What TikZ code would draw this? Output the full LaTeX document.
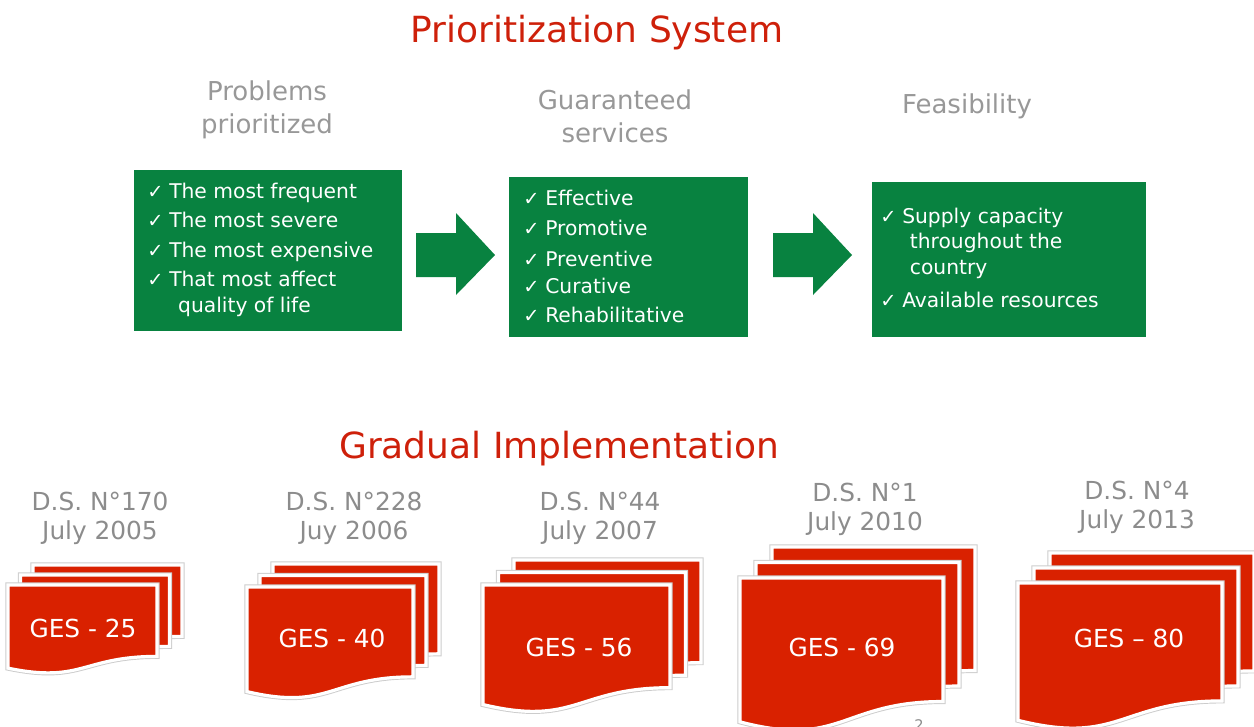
\documentclass[tikz,border=0pt]{standalone}
\usepackage{fontspec}
\setmainfont{DejaVu Sans}
\definecolor{gesred}{RGB}{217,33,0}
\definecolor{titlered}{RGB}{206,32,10}
\definecolor{boxgreen}{RGB}{8,130,64}
\definecolor{headgray}{RGB}{152,152,152}
\definecolor{labelgray}{RGB}{140,140,140}

% check mark in front of each list entry
\newcommand\chk{\makebox[16.5pt][l]{\fontsize{14.5}{14}\selectfont ✓}}

% one sheet of a stack: top-left (x,y), width w, height h, wavy lower edge
\newcommand\sheetpath[4]{(#1,#2) -- ({#1+#3},#2) -- ({#1+#3},{#2+0.802*#4})
  .. controls ({#1+0.5*#3},{#2+0.802*#4}) and ({#1+0.5*#3},{#2+1.1075*#4}) .. (#1,{#2+0.934*#4}) -- cycle}
\newcommand\sheet[4]{%
  \path[sheetshadow] \sheetpath{#1}{#2}{#3}{#4};
  \path[sheetface] \sheetpath{#1}{#2}{#3}{#4};}
% a stack of three sheets: front (x,y,w,h), step between sheets (dx,dy)
\newcommand\sheetstack[6]{%
  \sheet{#1+2*#5}{#2+2*#6}{#3}{#4}
  \sheet{#1+#5}{#2+#6}{#3}{#4}
  \sheet{#1}{#2}{#3}{#4}}

\begin{document}
\begin{tikzpicture}[x=0.75pt,y=-0.75pt,
  title/.style={text=titlered,font=\fontsize{27}{32}\selectfont},
  head/.style={text=headgray,font=\fontsize{19.5}{24.75}\selectfont,align=center},
  greenbox/.style={fill=boxgreen,draw=none},
  item/.style={text=white,font=\fontsize{15.2}{18}\selectfont,anchor=base west,inner sep=0pt},
  blockarrow/.style={fill=boxgreen,draw=none},
  dslabel/.style={text=labelgray,font=\fontsize{18.6}{21.75}\selectfont,align=center},
  geslabel/.style={text=white,font=\fontsize{18.6}{22}\selectfont},
  sheetshadow/.style={draw=black!20,line width=3.8pt,line join=miter},
  sheetface/.style={fill=gesred,draw=white,line width=2.4pt,line join=miter},
]
\useasboundingbox (0,0) rectangle (1254,726);

% ---------- Prioritization system ----------
\node[title] (ptitle) at (597,33) {Prioritization System};

\node[head] (h1) at (267,110) {Problems\\prioritized};
\node[head] (h2) at (615,116) {Guaranteed\\services};
\node[head] (h3) at (967,106) {Feasibility};

\fill[greenbox] (134,170) rectangle (402,331);
\coordinate (b1) at (268,250);
\fill[greenbox] (509,177) rectangle (748,337);
\coordinate (b2) at (628,257);
\fill[greenbox] (872,182) rectangle (1146,337);
\coordinate (b3) at (1009,259);

\node[item] (p1) at (147,198) {\chk The most frequent};
\node[item] (p2) at (147,227) {\chk The most severe};
\node[item] (p3) at (147,257) {\chk The most expensive};
\node[item] (p4) at (147,286) {\chk That most affect};
\node[item] (p5) at (147,312) {\hspace*{23.2pt}quality of life};

\node[item] (s1) at (523,205) {\chk Effective};
\node[item] (s2) at (523,235) {\chk Promotive};
\node[item] (s3) at (523,266) {\chk Preventive};
\node[item] (s4) at (523,293) {\chk Curative};
\node[item] (s5) at (523,322) {\chk Rehabilitative};

\node[item] (f1) at (880,223) {\chk Supply capacity};
\node[item] (f2) at (880,248) {\hspace*{22.2pt}throughout the};
\node[item] (f3) at (880,274) {\hspace*{22.2pt}country};
\node[item] (f4) at (880,307) {\chk Available resources};

% block arrows between the boxes
\fill[blockarrow] (416,233) -- (456,233) -- (456,213) -- (495,255) -- (456,295) -- (456,277) -- (416,277) -- cycle;
\fill[blockarrow] (773,233) -- (813,233) -- (813,213) -- (852,255) -- (813,295) -- (813,277) -- (773,277) -- cycle;

% ---------- Gradual implementation ----------
\node[title] (gtitle) at (559,449) {Gradual Implementation};

\node[dslabel] (d1) at (100,518) {D.S. N°170\\July 2005};
\node[dslabel] (d2) at (354,518) {D.S. N°228\\Juy 2006};
\node[dslabel] (d3) at (600,518) {D.S. N°44\\July 2007};
\node[dslabel] (d4) at (865,509) {D.S. N°1\\July 2010};
\node[dslabel] (d5) at (1137,507) {D.S. N°4\\July 2013};

\sheetstack{8}{585}{149}{89}{12.5}{-10}
\node[geslabel] (g1) at (83,628) {GES - 25};
\sheetstack{247}{587}{166}{112}{13}{-11.5}
\node[geslabel] (g2) at (332,638) {GES - 40};
\sheetstack{483}{585}{187}{128}{15.5}{-12.5}
\node[geslabel] (g3) at (579,647) {GES - 56};
\sheetstack{740}{578}{203}{154}{16}{-15.5}
\node[geslabel] (g4) at (842,647) {GES - 69};
\sheetstack{1018}{583}{204}{147}{16}{-15}
\node[geslabel] (g5) at (1129,638) {GES – 80};

% slide number
\node[text=labelgray,font=\fontsize{11}{12}\selectfont,anchor=north,inner sep=0pt] (pageno) at (919,719) {2};
\end{tikzpicture}
\end{document}
